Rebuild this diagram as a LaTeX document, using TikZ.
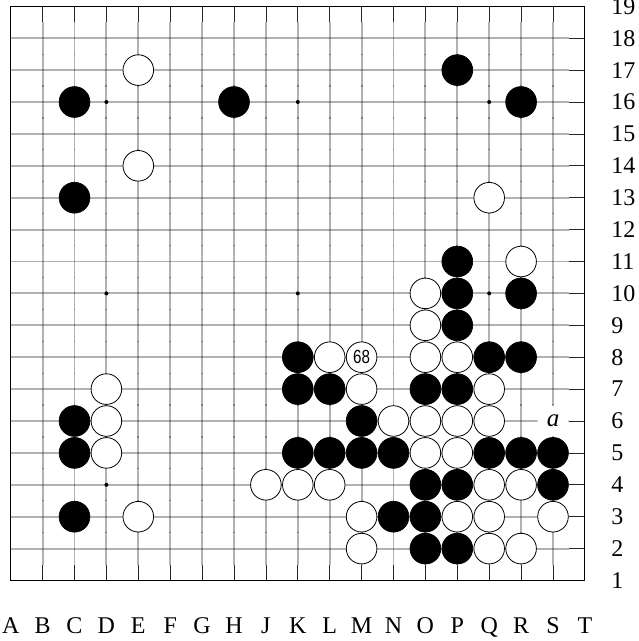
\documentclass[tikz,border=0pt]{standalone}
\usepackage{fontspec}
\setmainfont{Liberation Serif}
\newfontfamily\numfont{Liberation Sans}
\tikzset{
  gridline/.style={line width=1.9pt, draw=black, draw opacity=0.3},
  edgeline/.style={line width=0.7pt, draw=black!85},
  tickline/.style={line width=1.9pt, draw=black, draw opacity=0.3},
  boardborder/.style={line width=1pt, draw=black},
  stardot/.style={fill=black},
  bstone/.style={circle, fill=black, draw=black, line width=0.7pt, minimum size=30.8pt, inner sep=0pt},
  wstone/.style={circle, fill=white, draw=black, line width=0.8pt, minimum size=30.6pt, inner sep=0pt},
  rowlabel/.style={anchor=west, inner sep=0pt, font=\fontsize{24pt}{28pt}\selectfont},
  collabel/.style={anchor=base, inner sep=0pt, font=\fontsize{24pt}{28pt}\selectfont},
  marklabel/.style={circle, fill=white, minimum size=31pt, inner sep=0pt, font=\fontsize{25pt}{28pt}\selectfont\itshape}
}
\begin{document}
\begin{tikzpicture}
\useasboundingbox (0pt,0pt) rectangle (639pt,-641pt);
\fill[white] (0pt,0pt) rectangle (639pt,-641pt);
\begin{scope}[shift={(10.7pt,-580.5pt)}, x=31.9pt, y=31.9pt]
  % interior grid
  \foreach \j in {1,...,17} {
    \draw[gridline] (0,\j) -- (17.5,\j);
    \draw[edgeline] (17.5,\j) -- (18,\j);
  }
  \foreach \i in {1,...,17} {
    \draw[gridline] (\i,0.5) -- (\i,17.5);
    \draw[edgeline] (\i,17.5) -- (\i,18);
    \draw[edgeline] (\i,0) -- (\i,0.5);
    \foreach \j in {1,...,16} {
      \draw[tickline] (\i,{\j+0.5}) ++(0,-0.6pt) -- ++(0,1.2pt);
    }
  }
  \draw[boardborder] (0,0) rectangle (18,18);
  % star points
  \foreach \i/\j in {3/15,9/15,15/15,3/9,9/9,15/9,3/3,9/3,15/3} {
    \fill[stardot] (\i,\j) circle (2pt);
  }
  % black stones
  \foreach \i/\j in {14/16,2/15,7/15,16/15,2/12,14/10,14/9,16/9,14/8,
                     9/7,15/7,16/7,9/6,10/6,13/6,14/6,2/5,11/5,
                     2/4,9/4,10/4,11/4,12/4,15/4,16/4,17/4,
                     13/3,14/3,17/3,2/2,12/2,13/2,13/1,14/1} {
    \node[bstone] (b\i-\j) at (\i,\j) {};
  }
  % white stones
  \foreach \i/\j in {4/16,4/13,15/12,16/10,13/9,13/8,10/7,13/7,14/7,
                     3/6,11/6,15/6,3/5,12/5,13/5,14/5,15/5,3/4,13/4,14/4,
                     8/3,9/3,10/3,15/3,16/3,4/2,11/2,14/2,15/2,17/2,
                     11/1,15/1,16/1} {
    \node[wstone] (w\i-\j) at (\i,\j) {};
  }
  % numbered stone
  \node[wstone] (m68) at (11,7) {\numfont\fontsize{19pt}{19pt}\selectfont\scalebox{0.8}[1]{68}};
  % marked point
  \node[marklabel] (ma) at (17,5) {a};
  % coordinates
  \foreach \r in {1,...,19} {
    \node[rowlabel] (row\r) at (18.82,{\r-1}) {\r};
  }
  \foreach \l [count=\c from 0] in {A,B,C,D,E,F,G,H,J,K,L,M,N,O,P,Q,R,S,T} {
    \node[collabel] (col\l) at (\c,-1.646) {\l};
  }
\end{scope}
\end{tikzpicture}
\end{document}
